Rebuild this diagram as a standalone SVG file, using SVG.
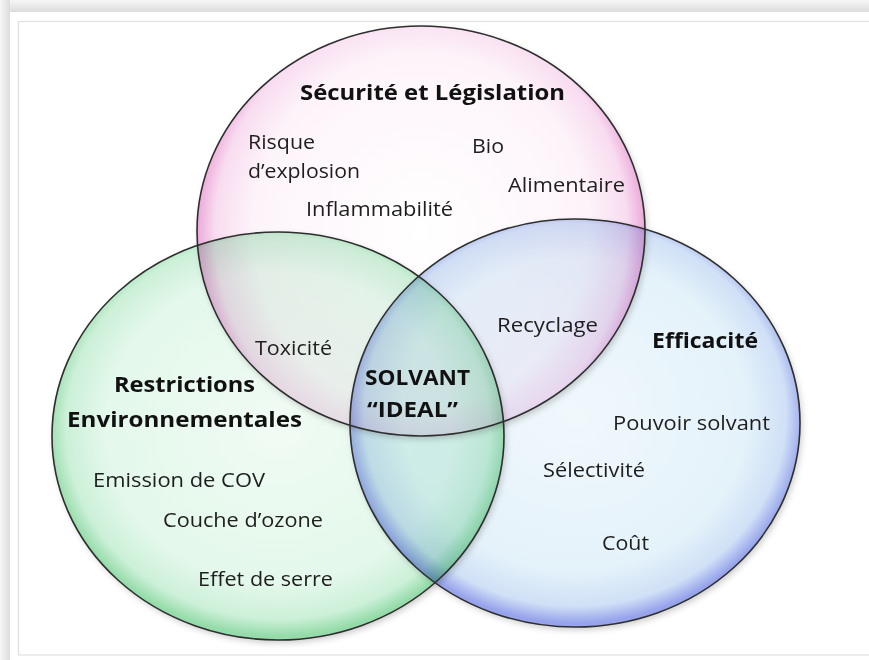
<svg xmlns="http://www.w3.org/2000/svg" width="869" height="660" viewBox="0 0 869 660">
<defs>
<linearGradient id="bgTop" x1="0" y1="0" x2="0" y2="1">
<stop offset="0" stop-color="#f6f6f6"/><stop offset="1" stop-color="#dcdcdc"/>
</linearGradient>
<linearGradient id="bgLeft" x1="0" y1="0" x2="1" y2="0">
<stop offset="0" stop-color="#f6f6f6"/><stop offset="1" stop-color="#dcdcdc"/>
</linearGradient>
<radialGradient id="gPink" cx="0.5" cy="0.5" r="0.5" gradientTransform="translate(0.5 0.5) scale(1 1.15) translate(-0.5 -0.5)">
<stop offset="0" stop-color="#ffffff"/><stop offset="0.75" stop-color="#fdf4fa"/><stop offset="0.92" stop-color="#f8dcf0"/><stop offset="1" stop-color="#eca9da"/>
</radialGradient>
<radialGradient id="gGreen" cx="0.5" cy="0.48" r="0.51">
<stop offset="0" stop-color="#f0fbf4"/><stop offset="0.75" stop-color="#e4f8eb"/><stop offset="0.92" stop-color="#ccf0d8"/><stop offset="1" stop-color="#96dcaa"/>
</radialGradient>
<radialGradient id="gBlue" cx="0.5" cy="0.48" r="0.51">
<stop offset="0" stop-color="#f0f8fc"/><stop offset="0.75" stop-color="#e4f2fa"/><stop offset="0.92" stop-color="#d0e0f6"/><stop offset="1" stop-color="#97a4ec"/>
</radialGradient>
<filter id="shadow" x="-10%" y="-10%" width="120%" height="120%">
<feDropShadow dx="2" dy="3" stdDeviation="3" flood-color="#000" flood-opacity="0.2"/>
</filter>
</defs>
<style>
.circ{mix-blend-mode:multiply;filter:url(#shadow)}
.outline{fill:none;stroke:#2e2e2e;stroke-width:1.6}
.t{font-family:"Open Sans","Noto Sans","DejaVu Sans",sans-serif;font-size:20px;fill:#1e1e1e}
.b{font-family:"Open Sans","Noto Sans","DejaVu Sans",sans-serif;font-size:22px;font-weight:bold;fill:#111}
</style>
<rect x="0" y="0" width="869" height="660" fill="#f3f3f3"/>
<rect x="0" y="0" width="869" height="12" fill="url(#bgTop)"/>
<rect x="0" y="0" width="10" height="660" fill="url(#bgLeft)"/>
<rect x="10" y="12" width="870" height="660" fill="#ffffff"/>
<rect x="18.5" y="21.5" width="860" height="633.5" fill="none" stroke="#e0e0e0" stroke-width="1.2"/>

<g id="connectors"/>

<g id="node-securite">
<ellipse class="circ" cx="421" cy="231" rx="224" ry="205" fill="url(#gPink)"/>
</g>
<g id="node-environnement">
<ellipse class="circ" cx="278" cy="436" rx="226" ry="204" fill="url(#gGreen)"/>
</g>
<g id="node-efficacite">
<ellipse class="circ" cx="575" cy="423" rx="225" ry="204" fill="url(#gBlue)"/>
</g>
<g id="outlines">
<ellipse class="outline" cx="421" cy="231" rx="224" ry="205"/>
<ellipse class="outline" cx="278" cy="436" rx="226" ry="204"/>
<ellipse class="outline" cx="575" cy="423" rx="225" ry="204"/>
</g>

<g id="labels-securite">
<text class="b" x="300" y="100" textLength="265" lengthAdjust="spacingAndGlyphs">Sécurité et Législation</text>
<text class="t" x="248" y="149" textLength="67" lengthAdjust="spacingAndGlyphs">Risque</text>
<text class="t" x="248" y="178" textLength="112" lengthAdjust="spacingAndGlyphs">d’explosion</text>
<text class="t" x="306" y="216" textLength="147" lengthAdjust="spacingAndGlyphs">Inflammabilité</text>
<text class="t" x="472" y="153" textLength="32" lengthAdjust="spacingAndGlyphs">Bio</text>
<text class="t" x="508" y="192" textLength="117" lengthAdjust="spacingAndGlyphs">Alimentaire</text>
</g>
<g id="labels-overlaps">
<text class="t" x="255" y="355" textLength="77" lengthAdjust="spacingAndGlyphs">Toxicité</text>
<text class="t" x="497" y="332" textLength="101" lengthAdjust="spacingAndGlyphs">Recyclage</text>
</g>
<g id="node-solvant-ideal">
<text class="b" x="365" y="385" textLength="105" lengthAdjust="spacingAndGlyphs">SOLVANT</text>
<text class="b" x="367" y="417" textLength="91" lengthAdjust="spacingAndGlyphs">“IDEAL”</text>
</g>
<g id="labels-efficacite">
<text class="b" x="652" y="348" textLength="106" lengthAdjust="spacingAndGlyphs">Efficacité</text>
<text class="t" x="613" y="430" textLength="157" lengthAdjust="spacingAndGlyphs">Pouvoir solvant</text>
<text class="t" x="543" y="477" textLength="102" lengthAdjust="spacingAndGlyphs">Sélectivité</text>
<text class="t" x="602" y="550" textLength="47" lengthAdjust="spacingAndGlyphs">Coût</text>
</g>
<g id="labels-environnement">
<text class="b" x="114" y="392" textLength="141" lengthAdjust="spacingAndGlyphs">Restrictions</text>
<text class="b" x="67" y="427" textLength="235" lengthAdjust="spacingAndGlyphs">Environnementales</text>
<text class="t" x="93" y="487" textLength="172" lengthAdjust="spacingAndGlyphs">Emission de COV</text>
<text class="t" x="163" y="527" textLength="160" lengthAdjust="spacingAndGlyphs">Couche d’ozone</text>
<text class="t" x="198" y="586" textLength="135" lengthAdjust="spacingAndGlyphs">Effet de serre</text>
</g>
</svg>
